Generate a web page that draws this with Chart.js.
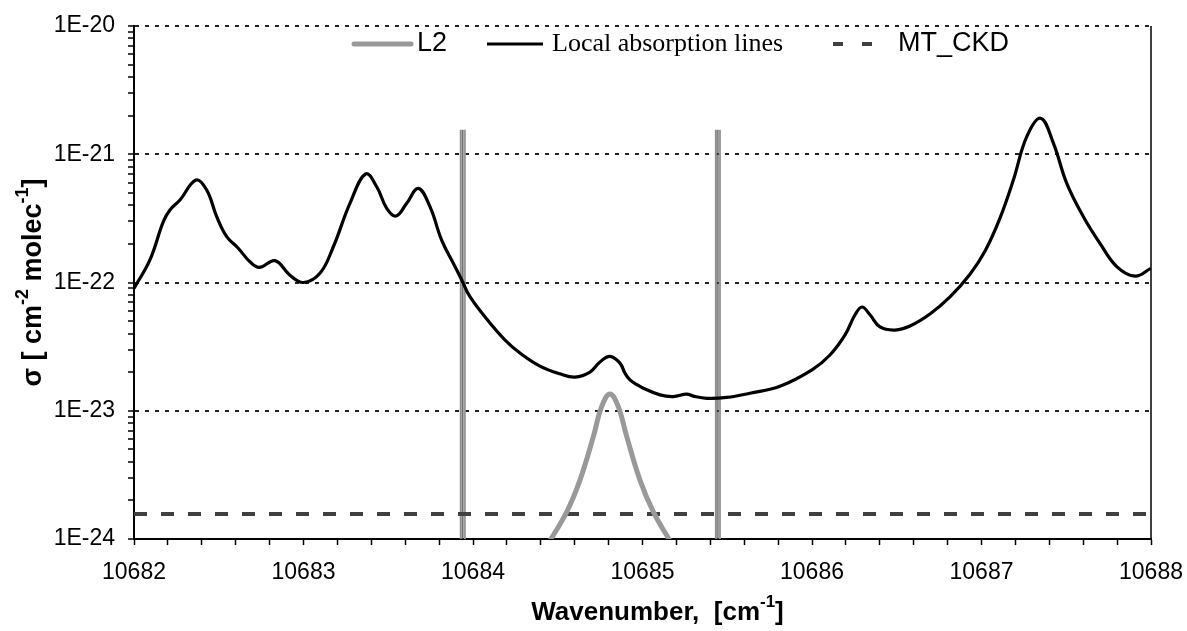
<!DOCTYPE html>
<html>
<head>
<meta charset="utf-8">
<script src="https://cdn.jsdelivr.net/npm/chart.js@4.4.1/dist/chart.umd.min.js"></script>
<style>
	html, body { margin: 0; padding: 0; background: #fff; }
</style>
</head>
<body>
<canvas id="sigma_chart" width="1187" height="631"></canvas>
<script>
var waveLocal = [10682.0, 10682.094, 10682.173, 10682.212, 10682.271, 10682.366, 10682.429, 10682.488, 10682.547, 10682.615,
		10682.684, 10682.739, 10682.832, 10682.92, 10682.999, 10683.097, 10683.176, 10683.274, 10683.367, 10683.432,
		10683.491, 10683.546, 10683.609, 10683.677, 10683.746, 10683.815, 10683.884, 10683.933, 10683.982, 10684.1,
		10684.189, 10684.277, 10684.395, 10684.513, 10684.602, 10684.69, 10684.749, 10684.808, 10684.867, 10684.896,
		10684.926, 10684.967, 10685.005, 10685.103, 10685.182, 10685.261, 10685.3, 10685.379, 10685.497, 10685.634,
		10685.811, 10686.0, 10686.106, 10686.195, 10686.254, 10686.295, 10686.342, 10686.401, 10686.49, 10686.578,
		10686.696, 10686.814, 10686.932, 10687.021, 10687.109, 10687.188, 10687.267, 10687.349, 10687.424, 10687.503,
		10687.601, 10687.699, 10687.798, 10687.906, 10688.0],
	sigmaLocal = [9.0e-23, 1.5e-22, 2.98e-22, 3.67e-22, 4.4e-22, 6.3e-22, 5.26e-22, 3.26e-22, 2.28e-22, 1.85e-22,
		1.45e-22, 1.31e-22, 1.48e-22, 1.14e-22, 1.0e-22, 1.18e-22, 1.9e-22, 4.14e-22, 7.02e-22, 5.58e-22,
		3.79e-22, 3.3e-22, 4.14e-22, 5.42e-22, 3.9e-22, 2.14e-22, 1.41e-22, 1.05e-22, 7.75e-23, 4.83e-23,
		3.56e-23, 2.82e-23, 2.23e-23, 1.94e-23, 1.83e-23, 2.0e-23, 2.4e-23, 2.65e-23, 2.35e-23, 1.97e-23,
		1.74e-23, 1.6e-23, 1.5e-23, 1.33e-23, 1.29e-23, 1.35e-23, 1.3e-23, 1.25e-23, 1.27e-23, 1.37e-23,
		1.55e-23, 2.08e-23, 2.72e-23, 3.9e-23, 5.6e-23, 6.44e-23, 5.6e-23, 4.5e-23, 4.26e-23, 4.58e-23,
		5.68e-23, 7.71e-23, 1.16e-22, 1.76e-22, 3.18e-22, 6.3e-22, 1.37e-21, 1.91e-21, 1.22e-21, 5.93e-22,
		3.26e-22, 2.02e-22, 1.33e-22, 1.12e-22, 1.29e-22],
	waveL2 = [10684.44, 10684.553, 10684.631, 10684.71, 10684.759, 10684.808, 10684.857, 10684.907, 10684.985, 10685.064, 10685.176],
	sigmaL2 = [9.0e-25, 1.63e-24, 2.88e-24, 6.28e-24, 1.076e-23, 1.35e-23, 1.076e-23, 6.28e-24, 2.88e-24, 1.63e-24, 9.0e-25],
	waveCkd = [10682, 10688],
	sigmaCkd = [1.57e-24, 1.57e-24],
	bandEdges = [10683.94, 10685.445],
	bandTop = 1.55e-21,
	xTickLabels = ['10682', '10683', '10684', '10685', '10686', '10687', '10688'],
	yTickLabels = ['1E-24', '1E-23', '1E-22', '1E-21', '1E-20'];

var tickFont = { family: 'Liberation Sans, Arial, sans-serif', size: 23 },
	sansFamily = '"Liberation Sans", Arial, sans-serif';

function toPoints(xs, ys) {
	return xs.map(function(x, i) { return { x: x, y: ys[i] }; });
}

function isPower(v) {
	var e = Math.round(Math.log10(v));
	return Math.abs(v / Math.pow(10, e) - 1) < 1e-6;
}

var datasets = [
	{ label: 'L2', data: toPoints(waveL2, sigmaL2), borderColor: '#999999', borderWidth: 5, tension: 0.4, clip: 0 },
	{ label: 'Local absorption lines', data: toPoints(waveLocal, sigmaLocal), borderColor: '#000000', borderWidth: 3.2, tension: 0.4, clip: 0 },
	{ label: 'MT_CKD', data: toPoints(waveCkd, sigmaCkd), borderColor: '#404040', borderWidth: 4, borderDash: [13, 14], clip: 0 }
];

// band edge markers: grey / dark / grey triple line
bandEdges.forEach(function(edge) {
	[[-0.012, '#8c8c8c', 2], [0, '#4a4a4a', 1.2], [0.012, '#9a9a9a', 2]].forEach(function(s) {
		datasets.push({
			label: 'band',
			data: [{ x: edge + s[0], y: 1e-24 }, { x: edge + s[0], y: bandTop }],
			borderColor: s[1],
			borderWidth: s[2],
			clip: 0
		});
	});
});
datasets.forEach(function(d) { d.pointRadius = 0; d.fill = false; });

function drawSegments(ctx, segs, x, y, size) {
	var supSize = Math.round(size * 0.65), total = 0;
	segs.forEach(function(s) {
		ctx.font = 'bold ' + (s.sup ? supSize : size) + 'px ' + sansFamily;
		s.w = ctx.measureText(s.t).width;
		total += s.w;
	});
	var cx = x - total / 2;
	segs.forEach(function(s) {
		ctx.font = 'bold ' + (s.sup ? supSize : size) + 'px ' + sansFamily;
		ctx.fillText(s.t, cx, s.sup ? y - size * 0.4 : y);
		cx += s.w;
	});
}

var decorPlugin = {
	id: 'decor',
	afterDraw: function(chart) {
		var ctx = chart.ctx, area = chart.chartArea;
		ctx.save();
		// right frame line
		ctx.strokeStyle = '#000';
		ctx.lineWidth = 1.5;
		ctx.beginPath();
		ctx.moveTo(area.right, area.top);
		ctx.lineTo(area.right, area.bottom);
		ctx.stroke();

		// axis titles
		ctx.fillStyle = '#000';
		ctx.textBaseline = 'middle';
		drawSegments(ctx, [{ t: 'Wavenumber,  [cm' }, { t: '-1', sup: true }, { t: ']' }], (area.left + area.right) / 2 + 15, 613, 26);
		ctx.translate(34, (area.top + area.bottom) / 2);
		ctx.rotate(-Math.PI / 2);
		drawSegments(ctx, [{ t: '\u03c3 [ cm' }, { t: '-2', sup: true }, { t: ' molec' }, { t: '-1', sup: true }, { t: ']' }], 0, 0, 27);
		ctx.restore();

		// legend
		var ds = chart.data.datasets, ly = 44;
		ctx.save();
		ctx.textBaseline = 'middle';
		ctx.fillStyle = '#000';

		ctx.strokeStyle = ds[0].borderColor;
		ctx.lineWidth = ds[0].borderWidth;
		ctx.lineCap = 'round';
		ctx.beginPath(); ctx.moveTo(354, ly); ctx.lineTo(411, ly); ctx.stroke();
		ctx.font = '27px ' + sansFamily;
		ctx.fillText(ds[0].label, 417, ly);

		ctx.strokeStyle = ds[1].borderColor;
		ctx.lineWidth = 3;
		ctx.lineCap = 'butt';
		ctx.beginPath(); ctx.moveTo(487, ly); ctx.lineTo(543, ly); ctx.stroke();
		ctx.font = '26px "Liberation Serif", "Times New Roman", serif';
		ctx.fillText(ds[1].label, 552, ly);

		ctx.strokeStyle = ds[2].borderColor;
		ctx.lineWidth = ds[2].borderWidth;
		ctx.beginPath(); ctx.moveTo(833, ly); ctx.lineTo(843, ly); ctx.moveTo(862, ly); ctx.lineTo(872, ly); ctx.stroke();
		ctx.font = '27px ' + sansFamily;
		ctx.fillText(ds[2].label, 898, ly);
		ctx.restore();
	}
};

var config = {
	type: 'line',
	data: { datasets: datasets },
	options: {
		responsive: false,
		animation: false,
		layout: { padding: { top: 26, right: 36, left: 0, bottom: 0 } },
		plugins: { legend: { display: false }, tooltip: { enabled: false } },
		scales: {
			x: {
				type: 'linear',
				min: 10682,
				max: 10688,
				afterFit: function(scale) {
					scale.height = 92;
					scale.paddingLeft = 0;
					scale.paddingRight = 0;
				},
				afterBuildTicks: function(scale) {
					var ticks = [];
					for (var i = 0; i < xTickLabels.length; i++) {
						var base = parseFloat(xTickLabels[i]);
						ticks.push({ value: base });
						if (i < xTickLabels.length - 1) {
							for (var k = 1; k < 5; k++) ticks.push({ value: base + k * 0.2 });
						}
					}
					scale.ticks = ticks;
				},
				ticks: {
					autoSkip: false,
					maxRotation: 0,
					padding: 14,
					color: '#000',
					font: tickFont,
					callback: function(v) {
						var idx = xTickLabels.indexOf(String(v));
						return idx >= 0 ? xTickLabels[idx] : '';
					}
				},
				grid: { drawOnChartArea: false, tickLength: 6, tickColor: '#000', tickWidth: 1.5 },
				border: { color: '#000', width: 2 }
			},
			y: {
				type: 'logarithmic',
				min: 1e-24,
				max: 1e-20,
				afterFit: function(scale) {
					scale.width = 134;
					scale.paddingTop = 0;
					scale.paddingBottom = 0;
				},
				afterBuildTicks: function(scale) {
					var ticks = [];
					for (var i = 0; i < yTickLabels.length; i++) {
						var p = parseFloat(yTickLabels[i]);
						ticks.push({ value: p });
						if (i < yTickLabels.length - 1) {
							for (var k = 2; k < 10; k++) ticks.push({ value: p * k });
						}
					}
					scale.ticks = ticks;
				},
				ticks: {
					autoSkip: false,
					padding: 13,
					color: '#000',
					font: tickFont,
					callback: function(v) {
						if (!isPower(v)) return '';
						return '1E' + Math.round(Math.log10(v));
					}
				},
				grid: {
					color: function(c) { return c.tick && isPower(c.tick.value) ? '#222' : 'rgba(0,0,0,0)'; },
					lineWidth: 2,
					tickLength: 6,
					tickColor: '#000',
					tickWidth: 1.5
				},
				border: { color: '#000', width: 2, dash: [4, 6] }
			}
		}
	},
	plugins: [decorPlugin]
};

new Chart(document.getElementById('sigma_chart').getContext('2d'), config);
</script>
</body>
</html>
